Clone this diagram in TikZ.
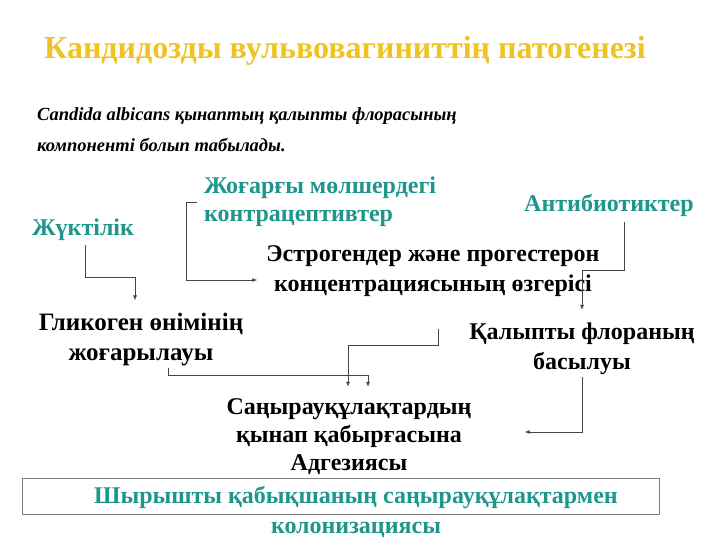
\documentclass[tikz,border=0pt]{standalone}
\usepackage{fontspec}
\setmainfont{Liberation Serif}
\usepackage{xcolor}
\usepackage{tikz}
\usetikzlibrary{positioning, arrows.meta}

\definecolor{causeteal}{RGB}{30,150,140}
\definecolor{titlegold}{RGB}{240,195,35}
\definecolor{wiregray}{RGB}{70,70,70}

\begin{document}
\begin{tikzpicture}[x=1pt, y=-1pt,
    lbl/.style={inner sep=0pt, align=center,
                font=\fontsize{24}{30}\selectfont\bfseries},
    cause/.style={lbl, text=causeteal},
    effect/.style={lbl, text=black},
    frame/.style={rectangle, draw=gray, line width=0.8pt, inner sep=0pt},
    arrow/.style={-{Latex[length=5pt,width=4pt]}, draw=wiregray, line width=0.7pt}]
  \useasboundingbox (0,0) rectangle (720,540);
  \node[lbl, text=titlegold, font=\fontsize{32}{38}\selectfont\bfseries] (title)
        at (345,51) {Кандидозды вульвовагиниттің патогенезі};
  \node[lbl, align=left, anchor=west,
        font=\fontsize{18.5}{31}\selectfont\bfseries\itshape] (intro) at (37,130)
        {Candida albicans қынаптың қалыпты флорасының\\компоненті болып табылады.};
  \node[cause] (preg) at (83,230) {Жүктілік};
  \node[cause, align=left, anchor=west, font=\fontsize{24}{28}\selectfont\bfseries]
        (contr) at (204,202) {Жоғарғы мөлшердегі\\контрацептивтер};
  \node[cause] (antib) at (609,205) {Антибиотиктер};
  \node[effect] (estr) at (433,271)
        {Эстрогендер және прогестерон\\концентрациясының өзгерісі};
  \node[effect, font=\fontsize{25}{30}\selectfont\bfseries] (glyc) at (141,340)
        {Гликоген өнімінің\\жоғарылауы};
  \node[effect] (flora) at (582,349) {Қалыпты флораның\\басылуы};
  \node[effect, font=\fontsize{24}{28}\selectfont\bfseries] (adh) at (349,437)
        {Саңырауқұлақтардың\\қынап қабырғасына\\Адгезиясы};
  \node[frame, minimum width=637, minimum height=36] (box) at (340.5,496) {};
  \node[cause] (colon) at (356,512)
        {Шырышты қабықшаның саңырауқұлақтармен\\колонизациясы};
  \draw[arrow] ([xshift=2pt,yshift=-4pt]preg.south) -- ++(0,32)
        -| ([xshift=-6pt,yshift=13pt]glyc.north);
  \draw[arrow] ([xshift=-7pt]contr.west) -- ++(-11,0)
        |- ([xshift=-9pt,yshift=-9pt]estr.west);
  \draw[arrow] ([xshift=15pt,yshift=-6pt]antib.south) -- ++(0,48)
        -| ([yshift=13pt]flora.north);
  \draw[arrow] ([yshift=-2pt]flora.south) |- ([xshift=53pt,yshift=5pt]adh.east);
  \draw[arrow] ([xshift=5pt,yshift=-32pt]estr.south) -- ++(0,17)
        -| ([xshift=-1pt,yshift=12pt]adh.north);
  \draw[arrow] ([xshift=27pt,yshift=-1pt]glyc.south) -- ++(0,8)
        -| ([xshift=19pt,yshift=12pt]adh.north);
\end{tikzpicture}
\end{document}
